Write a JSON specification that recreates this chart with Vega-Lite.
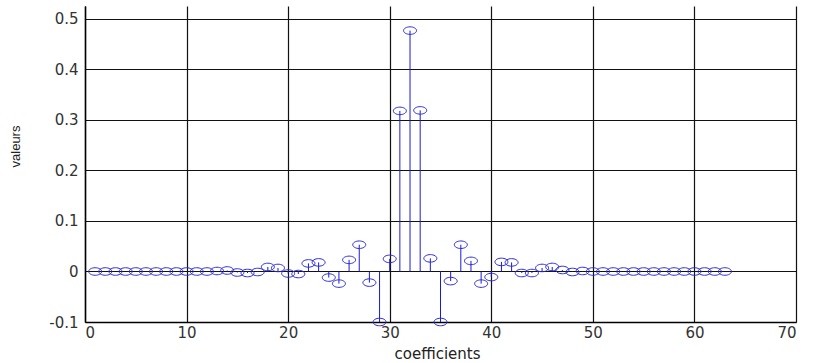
{
  "$schema": "https://vega.github.io/schema/vega-lite/v6.json",
  "width": 711,
  "height": 316,
  "autosize": {"type": "none"},
  "padding": {"left": 85, "top": 6, "right": 17, "bottom": 41},
  "background": "white",
  "config": {
    "view": {"stroke": null},
    "font": "DejaVu Sans"
  },
  "data": {
    "values": [
      {"n": 1, "v": 0}, {"n": 2, "v": 0}, {"n": 3, "v": 0}, {"n": 4, "v": 0},
      {"n": 5, "v": 0}, {"n": 6, "v": 0}, {"n": 7, "v": 0}, {"n": 8, "v": 0},
      {"n": 9, "v": 0}, {"n": 10, "v": 0}, {"n": 11, "v": 0}, {"n": 12, "v": 0},
      {"n": 13, "v": 0.001}, {"n": 14, "v": 0.002}, {"n": 15, "v": -0.002},
      {"n": 16, "v": -0.003}, {"n": 17, "v": -0.001}, {"n": 18, "v": 0.009},
      {"n": 19, "v": 0.007}, {"n": 20, "v": -0.004}, {"n": 21, "v": -0.005},
      {"n": 22, "v": 0.016}, {"n": 23, "v": 0.018}, {"n": 24, "v": -0.012},
      {"n": 25, "v": -0.024}, {"n": 26, "v": 0.023}, {"n": 27, "v": 0.053},
      {"n": 28, "v": -0.022}, {"n": 29, "v": -0.1}, {"n": 30, "v": 0.025},
      {"n": 31, "v": 0.318}, {"n": 32, "v": 0.477}, {"n": 33, "v": 0.319},
      {"n": 34, "v": 0.026}, {"n": 35, "v": -0.1}, {"n": 36, "v": -0.019},
      {"n": 37, "v": 0.053}, {"n": 38, "v": 0.021}, {"n": 39, "v": -0.024},
      {"n": 40, "v": -0.011}, {"n": 41, "v": 0.019}, {"n": 42, "v": 0.018},
      {"n": 43, "v": -0.003}, {"n": 44, "v": -0.003}, {"n": 45, "v": 0.007},
      {"n": 46, "v": 0.009}, {"n": 47, "v": 0.003}, {"n": 48, "v": -0.001},
      {"n": 49, "v": 0.001}, {"n": 50, "v": 0}, {"n": 51, "v": 0},
      {"n": 52, "v": 0}, {"n": 53, "v": 0}, {"n": 54, "v": 0}, {"n": 55, "v": 0},
      {"n": 56, "v": 0}, {"n": 57, "v": 0}, {"n": 58, "v": 0}, {"n": 59, "v": 0},
      {"n": 60, "v": 0}, {"n": 61, "v": 0}, {"n": 62, "v": 0}, {"n": 63, "v": 0}
    ]
  },
  "encoding": {
    "x": {
      "field": "n",
      "type": "quantitative",
      "scale": {"domain": [0, 70], "nice": false, "zero": false},
      "axis": {
        "values": [0, 10, 20, 30, 40, 50, 60, 70],
        "title": "coefficients",
        "titleFont": "DejaVu Sans",
        "titleFontSize": 15,
        "titleFontWeight": "normal",
        "titleColor": "#222",
        "titleX": 352,
        "titleY": 31,
        "titleBaseline": "middle",
        "labelFontSize": 15,
        "labelColor": "#333",
        "labelPadding": 3,
        "grid": true,
        "gridColor": "#111",
        "gridOpacity": 1,
        "gridWidth": 1.2,
        "domainColor": "#000",
        "domainWidth": 1.5,
        "ticks": false
      }
    },
    "y": {
      "field": "v",
      "type": "quantitative",
      "scale": {"domain": [-0.1, 0.5257], "nice": false, "zero": false},
      "axis": {
        "values": [-0.1, 0, 0.1, 0.2, 0.3, 0.4, 0.5],
        "labelExpr": "datum.value == 0 ? '0' : toString(round(datum.value * 10) / 10)",
        "title": "valeurs",
        "titleFont": "Liberation Sans",
        "titleFontSize": 13,
        "titleFontWeight": "normal",
        "titleColor": "#222",
        "titleX": -70,
        "titleY": 140,
        "titleAngle": 270,
        "titleBaseline": "middle",
        "labelFontSize": 15,
        "labelColor": "#333",
        "labelPadding": 7,
        "grid": true,
        "gridColor": "#111",
        "gridOpacity": 1,
        "gridWidth": 1.2,
        "domainColor": "#000",
        "domainWidth": 1.5,
        "ticks": false
      }
    }
  },
  "layer": [
    {
      "mark": {"type": "rule", "color": "#1a1ad6", "strokeWidth": 1},
      "encoding": {"y2": {"datum": 0}}
    },
    {
      "mark": {
        "type": "point",
        "shape": "M-1,0A1,0.58 0 1,0 1,0A1,0.58 0 1,0 -1,0Z",
        "size": 169,
        "filled": false,
        "color": "#2a2ad8",
        "strokeWidth": 1,
        "opacity": 1
      }
    }
  ]
}
